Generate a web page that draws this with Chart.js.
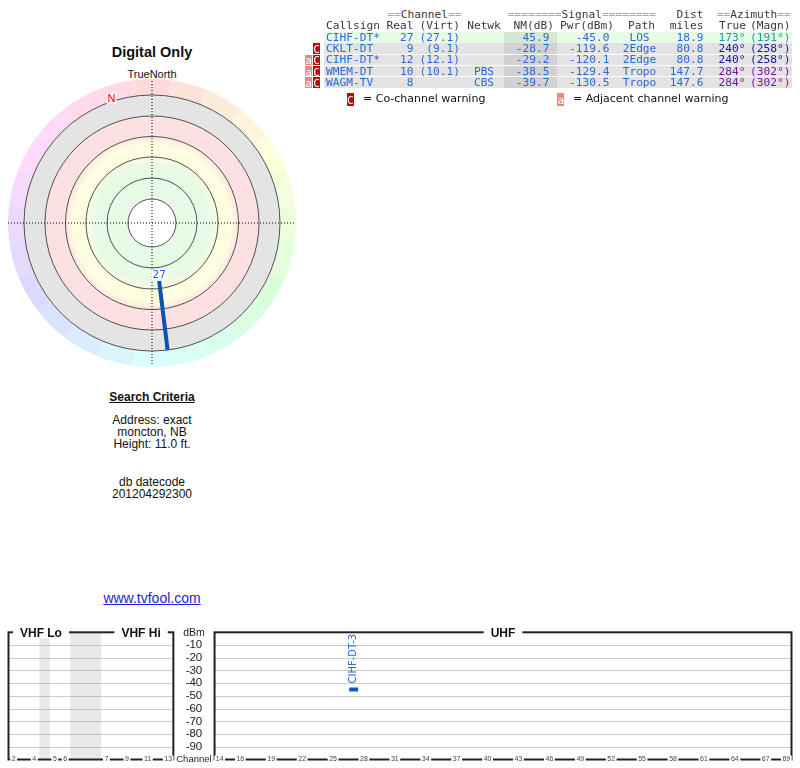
<!DOCTYPE html>
<html lang="en">
<head>
<meta charset="UTF-8">
<title>Digital Only - signal analysis</title>
<script src="https://cdn.jsdelivr.net/npm/chart.js@4"></script>
<style>
  body { margin: 0; background: #fff; }
  #page { position: relative; width: 800px; height: 768px; overflow: hidden;
          font-family: "Liberation Sans", Arial, sans-serif; color: #111; }
  .abs { position: absolute; white-space: nowrap; }
  .ctr { position: absolute; left: 0; width: 304px; text-align: center; white-space: nowrap; }
  .cell { position: absolute; white-space: nowrap; font-family: "DejaVu Sans Mono", monospace;
          font-size: 11.2px; line-height: 12px; }
  .eq { color: #aaa; }
  .warn { position: absolute; font-family: "DejaVu Sans Mono", monospace; font-size: 11px;
          color: #fff; text-align: center; }
  canvas { position: absolute; }
</style>
</head>
<body>
<div id="page">
  <div class="ctr" style="top:43.7px;font-size:14.5px;line-height:16px;font-weight:bold;">Digital Only</div>
  <div class="ctr" style="top:68.3px;font-size:11px;line-height:12px;">TrueNorth</div>
  <canvas id="polar" width="300" height="300" style="left:2px;top:72.5px;"></canvas>

  <div class="ctr" style="top:391.3px;font-size:12px;line-height:12px;font-weight:bold;text-decoration:underline;">Search Criteria</div>
  <div class="ctr" style="top:414px;font-size:12px;line-height:12px;">Address: exact<br>moncton, NB<br>Height: 11.0 ft.</div>
  <div class="ctr" style="top:475.7px;font-size:12px;line-height:12px;">db datecode<br>201204292300</div>
  <div class="ctr" style="top:590.3px;font-size:14px;line-height:16px;color:#2222dd;text-decoration:underline;">www.tvfool.com</div>

  <canvas id="spectrum" width="800" height="168" style="left:0;top:600px;"></canvas>
</div>

<script>
// station table
const callsigns = ['CIHF-DT*', 'CKLT-DT', 'CIHF-DT*', 'WMEM-DT', 'WAGM-TV'];
const realChannels = [27, 9, 12, 10, 8];
const virtChannels = ['27.1', '9.1', '12.1', '10.1', ''];
const networks = ['', '', '', 'PBS', 'CBS'];
const nmDb = [45.9, -28.7, -29.2, -38.5, -39.7];
const pwrDbm = [-45.0, -119.6, -120.1, -129.4, -130.5];
const paths = ['LOS', '2Edge', '2Edge', 'Tropo', 'Tropo'];
const distMiles = [18.9, 80.8, 80.8, 147.7, 147.6];
const azTrue = [173, 240, 240, 284, 284];
const azMagn = [191, 258, 258, 302, 302];
const coChannelWarn = [false, true, true, true, true];
const adjChannelWarn = [false, false, true, true, true];
const spectrumLabels = ['CIHF-DT-3', 'CKLT-DT', 'CIHF-DT', 'WMEM-DT', 'WAGM-TV'];

// spectrum axes
const dbmTicks = [-10, -20, -30, -40, -50, -60, -70, -80, -90];
const vhfTickChannels = [2, 4, 5, 6, 7, 9, 11, 13];
const uhfTickChannels = [14, 16, 19, 22, 25, 28, 31, 34, 37, 40, 43, 46, 49, 52, 55, 58, 61, 64, 67, 69];

const page = document.getElementById('page');
const BLUE = '#2a6ad8';

// ---------- table ----------
function addDiv(html, x, align, cy, color, cls) {
  const d = document.createElement('div');
  d.className = cls || 'cell';
  d.innerHTML = html;
  d.style.top = (cy - 6) + 'px';
  if (align === 'left') d.style.left = x + 'px';
  else if (align === 'right') d.style.right = (800 - x) + 'px';
  else { d.style.left = (x - 50) + 'px'; d.style.width = '100px'; d.style.textAlign = 'center'; }
  if (color) d.style.color = color;
  page.appendChild(d);
  return d;
}
function addBox(x, y, w, h, bg) {
  const d = document.createElement('div');
  d.className = 'abs';
  Object.assign(d.style, { left: x + 'px', top: y + 'px', width: w + 'px', height: h + 'px', background: bg });
  page.appendChild(d);
  return d;
}
function rowColors(nm) {
  if (nm >= 30) return ['#e6fae6', '#d5e8d5'];
  if (nm >= 15) return ['#fcfce0', '#eaead0'];
  if (nm >= 0) return ['#fce0e0', '#eacfcf'];
  return ['#e3e3e3', '#d1d1d1'];
}

const HEAD = '#3a3a3a';
addDiv('<span class="eq">==</span>Channel<span class="eq">==</span>', 387.3, 'left', 15, HEAD);
addDiv('<span class="eq">========</span>Signal<span class="eq">========</span>', 507.7, 'left', 15, HEAD);
addDiv('Dist', 703.5, 'right', 15, HEAD);
addDiv('<span class="eq">==</span>Azimuth<span class="eq">==</span>', 716.7, 'left', 15, HEAD);
addDiv('Callsign', 326, 'left', 25.7, HEAD);
addDiv('Real', 413.5, 'right', 25.7, HEAD);
addDiv('(Virt)', 460, 'right', 25.7, HEAD);
addDiv('Netwk', 484, 'center', 25.7, HEAD);
addDiv('NM(dB)', 554, 'right', 25.7, HEAD);
addDiv('Pwr(dBm)', 614, 'right', 25.7, HEAD);
addDiv('Path', 641.5, 'center', 25.7, HEAD);
addDiv('miles', 703.5, 'right', 25.7, HEAD);
addDiv('True', 746, 'right', 25.7, HEAD);
addDiv('(Magn)', 790.5, 'right', 25.7, HEAD);

callsigns.forEach((cs, i) => {
  const top = 32 + i * 11.3;
  const cy = top + 5.6;
  const [bg, bgDark] = rowColors(nmDb[i]);
  addBox(323.5, top, 468.5, 10.6, bg);
  addBox(504.3, top, 53, 10.6, bgDark);
  if (coChannelWarn[i]) addBox(312.7, top, 7.6, 10.6, '#b80d0d');
  if (adjChannelWarn[i]) addBox(304.7, top, 7.6, 10.6, '#f08484');
  if (coChannelWarn[i]) addDiv('C', 316.5, 'center', cy, '#fff', 'warn');
  if (adjChannelWarn[i]) addDiv('a', 308.5, 'center', cy, '#fff', 'warn');
  const azCol = `hsl(${azTrue[i]}, 78%, 36%)`;
  addDiv(cs, 326, 'left', cy, BLUE);
  addDiv(String(realChannels[i]), 413.5, 'right', cy, BLUE);
  if (virtChannels[i]) addDiv('(' + virtChannels[i] + ')', 460, 'right', cy, BLUE);
  if (networks[i]) addDiv(networks[i], 484, 'center', cy, BLUE);
  addDiv(nmDb[i].toFixed(1), 549.5, 'right', cy, BLUE);
  addDiv(pwrDbm[i].toFixed(1), 609.5, 'right', cy, BLUE);
  addDiv(paths[i], 639.5, 'center', cy, BLUE);
  addDiv(distMiles[i].toFixed(1), 703.5, 'right', cy, BLUE);
  addDiv(azTrue[i] + '°', 745.5, 'right', cy, azCol);
  addDiv('(' + azMagn[i] + '°)', 790.5, 'right', cy, azCol);
});

// legend
addBox(346.7, 92.7, 7, 13, '#b80d0d');
addDiv('C', 350.2, 'center', 99.5, '#fff', 'warn');
addDiv('= Co-channel warning', 363, 'left', 99, '#111', 'abs').style.cssText +=
  'font-family:"DejaVu Sans",sans-serif;font-size:11px;line-height:12px;';
addBox(557.3, 92.7, 7, 13, '#f08484');
addDiv('a', 560.8, 'center', 99.5, '#fff', 'warn');
addDiv('= Adjacent channel warning', 573, 'left', 99, '#111', 'abs').style.cssText +=
  'font-family:"DejaVu Sans",sans-serif;font-size:11px;line-height:12px;';

// ---------- polar plot ----------
const R_OUTER = 128;       // gray ring outer edge (plot units = px)
const PX_PER_DB = 1.514;   // radial length per dB of noise margin
const RINGS = [24, 45, 66, 86.5, 107, 128];

function polarXY(az, r) {
  const a = az * Math.PI / 180;
  return { x: r * Math.sin(a), y: r * Math.cos(a) };
}

const polarDatasets = [];
const polarLabels = [];
callsigns.forEach((cs, i) => {
  const rIn = R_OUTER - nmDb[i] * PX_PER_DB;
  if (rIn >= R_OUTER) return;
  polarDatasets.push({
    data: [polarXY(azTrue[i], rIn), polarXY(azTrue[i], R_OUTER)],
    showLine: true, borderColor: '#0f4fb8', borderWidth: 4, pointRadius: 0, borderCapStyle: 'butt'
  });
  polarLabels.push(String(realChannels[i]));
});

const polarDecor = {
  id: 'polarDecor',
  beforeDatasetsDraw(chart) {
    const { ctx, scales: { x, y } } = chart;
    const cx = x.getPixelForValue(0), cy = y.getPixelForValue(0);
    const u = r => x.getPixelForValue(r) - cx;
    ctx.save();
    // compass hue ring
    for (let k = 0; k < 24; k++) {
      const az = k * 15;
      const a0 = (az - 7.5 - 90) * Math.PI / 180, a1 = (az + 7.5 - 90) * Math.PI / 180;
      ctx.beginPath();
      ctx.arc(cx, cy, u(144), a0, a1);
      ctx.arc(cx, cy, u(128), a1, a0, true);
      ctx.closePath();
      ctx.fillStyle = `hsl(${az}, 95%, 92.5%)`;
      ctx.fill();
    }
    // reception zones
    const g = ctx.createRadialGradient(cx, cy, 0, cx, cy, u(128));
    g.addColorStop(0, '#e6fae6');
    g.addColorStop(56 / 128, '#e6fae6');
    g.addColorStop(68 / 128, '#fdfde0');
    g.addColorStop(79 / 128, '#fdfde0');
    g.addColorStop(88 / 128, '#fde1e1');
    g.addColorStop(106.5 / 128, '#fde1e1');
    g.addColorStop(107.5 / 128, '#e4e4e4');
    g.addColorStop(1, '#e4e4e4');
    ctx.beginPath(); ctx.arc(cx, cy, u(128), 0, Math.PI * 2);
    ctx.fillStyle = g; ctx.fill();
    ctx.beginPath(); ctx.arc(cx, cy, u(24), 0, Math.PI * 2);
    ctx.fillStyle = '#fff'; ctx.fill();
    ctx.strokeStyle = '#505050'; ctx.lineWidth = 1;
    RINGS.forEach(r => { ctx.beginPath(); ctx.arc(cx, cy, u(r), 0, Math.PI * 2); ctx.stroke(); });
    // crosshair
    ctx.setLineDash([1, 2]);
    ctx.strokeStyle = '#000';
    ctx.beginPath();
    ctx.moveTo(x.getPixelForValue(-144), cy); ctx.lineTo(x.getPixelForValue(144), cy);
    ctx.moveTo(cx, y.getPixelForValue(142)); ctx.lineTo(cx, y.getPixelForValue(-142));
    ctx.stroke();
    ctx.restore();
  },
  afterDatasetsDraw(chart) {
    const { ctx, scales: { x, y } } = chart;
    ctx.save();
    ctx.textAlign = 'center';
    ctx.textBaseline = 'middle';
    // channel numbers at the inner end of each line
    ctx.font = '10.5px "DejaVu Sans", sans-serif';
    chart.data.datasets.forEach((ds, i) => {
      const p = ds.data[0];
      const px = x.getPixelForValue(p.x), py = y.getPixelForValue(p.y) - 6;
      const w = ctx.measureText(polarLabels[i]).width;
      ctx.fillStyle = '#fff';
      ctx.fillRect(px - w / 2 - 1, py - 5, w + 2, 10);
      ctx.fillStyle = BLUE;
      ctx.fillText(polarLabels[i], px, py);
    });
    // magnetic north
    const n = polarXY(azTrue[0] - azMagn[0], 131);
    const nx = x.getPixelForValue(n.x), ny = y.getPixelForValue(n.y);
    ctx.font = '11px "Liberation Sans", Arial, sans-serif';
    ctx.fillStyle = 'rgba(255,255,255,0.85)';
    ctx.fillRect(nx - 5, ny - 5.5, 10, 11);
    ctx.fillStyle = '#e00000';
    ctx.fillText('N', nx, ny + 0.5);
    ctx.restore();
  }
};

new Chart(document.getElementById('polar'), {
  type: 'scatter',
  data: { datasets: polarDatasets },
  options: {
    responsive: false,
    animation: false,
    events: [],
    layout: { padding: 0 },
    plugins: { legend: { display: false }, tooltip: { enabled: false } },
    scales: {
      x: { type: 'linear', min: -150, max: 150, display: false },
      y: { type: 'linear', min: -150, max: 150, display: false }
    }
  },
  plugins: [polarDecor]
});

// ---------- spectrum ----------
// VHF and UHF share one slot axis; empty slots are the 4/5 and 6/7 band gaps
// plus the dBm label column between the two boxes
function channelSlot(ch) {
  if (ch <= 4) return ch - 2;
  if (ch <= 6) return ch - 1;
  if (ch <= 13) return ch + 2;
  return ch + 6;
}
const BOXES = [[-0.5, 15.5], [19.5, 75.5]];
const GAPS = [[2.5, 3.5], [5.5, 8.5]];
const BOX_TITLES = [['VHF Lo', 2.65], ['VHF Hi', 12.37], ['UHF', 47.5]];
const LABEL_COLUMN = 17.5;

const spectrumDecor = {
  id: 'spectrumDecor',
  beforeDatasetsDraw(chart) {
    const { ctx, chartArea: { top, bottom }, scales: { x, y } } = chart;
    ctx.save();
    ctx.fillStyle = '#e8e8e8';
    GAPS.forEach(([a, b]) => {
      const xa = x.getPixelForValue(a), xb = x.getPixelForValue(b);
      ctx.fillRect(xa, top, xb - xa, bottom - top);
    });
    ctx.strokeStyle = '#999';
    ctx.lineWidth = 1;
    ctx.setLineDash([1, 1]);
    BOXES.forEach(([a, b]) => {
      dbmTicks.forEach(v => {
        const py = Math.round(y.getPixelForValue(v)) + 0.5;
        ctx.beginPath();
        ctx.moveTo(x.getPixelForValue(a), py);
        ctx.lineTo(x.getPixelForValue(b), py);
        ctx.stroke();
      });
    });
    ctx.restore();
  },
  afterDatasetsDraw(chart) {
    const { ctx, chartArea: { top, bottom }, scales: { x, y } } = chart;
    ctx.save();
    // frames
    ctx.strokeStyle = '#222';
    ctx.lineWidth = 2;
    BOXES.forEach(([a, b]) => {
      const xa = x.getPixelForValue(a), xb = x.getPixelForValue(b);
      ctx.strokeRect(xa, top, xb - xa, bottom - top);
    });
    ctx.textAlign = 'center';
    ctx.textBaseline = 'middle';
    // band titles on the top border
    ctx.font = 'bold 12px "Liberation Sans", Arial, sans-serif';
    BOX_TITLES.forEach(([t, s]) => {
      const px = x.getPixelForValue(s);
      const w = ctx.measureText(t).width;
      ctx.fillStyle = '#fff';
      ctx.fillRect(px - w / 2 - 7, top - 6, w + 14, 12);
      ctx.fillStyle = '#111';
      ctx.fillText(t, px, top + 1);
    });
    // channel ticks on the bottom border
    ctx.font = '7px "Liberation Sans", Arial, sans-serif';
    vhfTickChannels.concat(uhfTickChannels).forEach(ch => {
      const px = x.getPixelForValue(channelSlot(ch));
      const t = String(ch);
      const w = ctx.measureText(t).width;
      ctx.fillStyle = '#fff';
      ctx.fillRect(px - w / 2 - 1.5, bottom - 4, w + 3, 8);
      ctx.fillStyle = '#444';
      ctx.fillText(t, px, bottom);
    });
    // dBm column
    const lx = x.getPixelForValue(LABEL_COLUMN);
    ctx.fillStyle = '#222';
    ctx.font = '11.5px "Liberation Sans", Arial, sans-serif';
    dbmTicks.forEach(v => ctx.fillText(String(v), lx, y.getPixelForValue(v)));
    ctx.font = '10.5px "Liberation Sans", Arial, sans-serif';
    ctx.fillText('dBm', lx, y.getPixelForValue(y.max) + 1);
    ctx.font = '9.5px "Liberation Sans", Arial, sans-serif';
    ctx.fillText('Channel', lx, y.getPixelForValue(y.min) - 0.5);
    // station names above their markers
    ctx.font = '10px "DejaVu Sans", sans-serif';
    ctx.fillStyle = BLUE;
    ctx.textAlign = 'left';
    pwrDbm.forEach((p, i) => {
      if (p < y.min || p > y.max) return;
      const px = x.getPixelForValue(channelSlot(realChannels[i]));
      const py = y.getPixelForValue(p) - 6;
      ctx.save();
      ctx.translate(px, py);
      ctx.rotate(-Math.PI / 2);
      ctx.fillText(spectrumLabels[i], 0, 0);
      ctx.restore();
    });
    ctx.restore();
  }
};

new Chart(document.getElementById('spectrum'), {
  type: 'scatter',
  data: {
    datasets: [{
      data: realChannels.map((ch, i) => ({ x: channelSlot(ch), y: pwrDbm[i] })),
      pointStyle: 'line',
      pointRadius: 4.5,
      borderWidth: 4,
      borderColor: '#1a56c0',
      backgroundColor: '#1a56c0'
    }]
  },
  options: {
    responsive: false,
    animation: false,
    events: [],
    layout: { padding: { left: 7, right: 7.7, top: 32.3, bottom: 8.2 } },
    plugins: { legend: { display: false }, tooltip: { enabled: false } },
    scales: {
      x: { type: 'linear', min: -0.5, max: 75.5, display: false },
      y: { type: 'linear', min: -100, max: 0, display: false }
    }
  },
  plugins: [spectrumDecor]
});
</script>
</body>
</html>
